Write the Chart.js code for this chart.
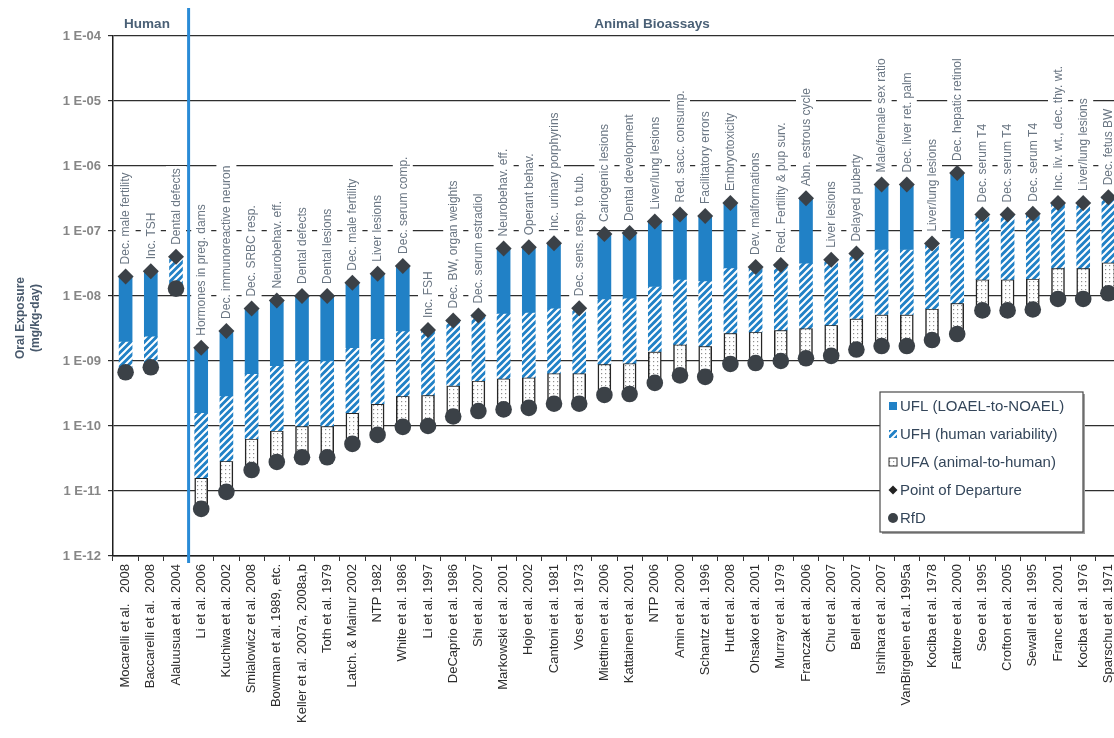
<!DOCTYPE html>
<html>
<head>
<meta charset="utf-8">
<script src="https://cdn.jsdelivr.net/npm/chart.js@4.4.0/dist/chart.umd.min.js"></script>
<style>
html,body{margin:0;padding:0;background:#fff;overflow:hidden;}
#wrap{width:1114px;height:738px;overflow:hidden;position:relative;}
canvas{display:block;}
</style>
</head>
<body>
<div id="wrap"><canvas id="tcdd" width="1130" height="738"></canvas></div>
<script>
// ---- data (mg/kg-day) ----
const studies = [
  'Mocarelli et al.   2008', 'Baccarelli et al.  2008', 'Alaluusua et al. 2004', 'Li et al. 2006',
  'Kuchiwa et al. 2002', 'Smialowicz et al. 2008', 'Bowman et al. 1989, etc.', 'Keller et al. 2007a, 2008a,b',
  'Toth et al. 1979', 'Latch. & Mainur 2002', 'NTP 1982', 'White et al. 1986', 'Li et al. 1997',
  'DeCaprio et al. 1986', 'Shi et al. 2007', 'Markowski et al. 2001', 'Hojo et al. 2002', 'Cantoni et al. 1981',
  'Vos et al. 1973', 'Miettinen et al. 2006', 'Kattainen et al. 2001', 'NTP 2006', 'Amin et al. 2000',
  'Schantz et al. 1996', 'Hutt et al. 2008', 'Ohsako et al. 2001', 'Murray et al. 1979', 'Franczak et al. 2006',
  'Chu et al. 2007', 'Bell et al. 2007', 'Ishihara et al. 2007', 'VanBirgelen et al. 1995a', 'Kociba et al. 1978',
  'Fattore et al. 2000', 'Seo et al. 1995', 'Crofton et al. 2005', 'Sewall et al. 1995', 'Franc et al. 2001',
  'Kociba et al. 1976', 'Sparschu et al. 1971'
];
const effects = [
  'Dec. male fertility', 'Inc. TSH', 'Dental defects', 'Hormones in preg. dams',
  'Dec. immunoreactive neuron', 'Dec. SRBC resp.', 'Neurobehav. eff.', 'Dental defects',
  'Dental lesions', 'Dec. male fertility', 'Liver lesions', 'Dec. serum comp.', 'Inc. FSH',
  'Dec. BW, organ weights', 'Dec. serum estradiol', 'Neurobehav. eff.', 'Operant behav.', 'Inc. urinary porphyrins',
  'Dec. sens. resp. to tub.', 'Cariogenic lesions', 'Dental development', 'Liver/lung lesions', 'Red. sacc. consump.',
  'Facilitatory errors', 'Embryotoxicity', 'Dev. malformations', 'Red. Fertility & pup surv.', 'Abn. estrous cycle',
  'Liver lesions', 'Delayed puberty', 'Male/female sex ratio', 'Dec. liver ret. palm', 'Liver/lung lesions',
  'Dec. hepatic retinol', 'Dec. serum T4', 'Dec. serum T4', 'Dec. serum T4', 'Inc. liv. wt., dec. thy. wt.',
  'Liver/lung lesions', 'Dec. fetus BW'
];
// point of departure (top of each bar)
const pod = [
  2.0e-8, 2.4e-8, 4.0e-8, 1.6e-9, 2.9e-9, 6.4e-9, 8.5e-9, 1.0e-8, 1.0e-8, 1.6e-8,
  2.2e-8, 2.9e-8, 3.0e-9, 4.2e-9, 5.0e-9, 5.4e-8, 5.6e-8, 6.5e-8, 6.5e-9, 9.0e-8,
  9.3e-8, 1.4e-7, 1.8e-7, 1.7e-7, 2.7e-7, 2.8e-8, 3.0e-8, 3.2e-7, 3.6e-8, 4.5e-8,
  5.2e-7, 5.2e-7, 6.4e-8, 7.8e-7, 1.8e-7, 1.8e-7, 1.85e-7, 2.7e-7, 2.7e-7, 3.3e-7
];
// lower end of the UFL segment (null = no LOAEL-to-NOAEL factor)
const uflLow = [
  2.0e-9, 2.4e-9, null, 1.6e-10, 2.9e-10, 6.4e-10, 8.5e-10, 1.0e-9, 1.0e-9, 1.6e-9,
  2.2e-9, 2.9e-9, null, null, null, 5.4e-9, 5.6e-9, 6.5e-9, null, 9.0e-9,
  9.3e-9, 1.4e-8, 1.8e-8, 1.7e-8, 2.7e-8, null, null, 3.2e-8, null, null,
  5.2e-8, 5.2e-8, null, 7.8e-8, null, null, null, null, null, null
];
// lower end of the UFH segment
const ufhLow = [
  6.7e-10, 8.0e-10, 1.3e-8, 1.6e-11, 2.9e-11, 6.4e-11, 8.5e-11, 1.0e-10, 1.0e-10, 1.6e-10,
  2.2e-10, 2.9e-10, 3.0e-10, 4.2e-10, 5.0e-10, 5.4e-10, 5.6e-10, 6.5e-10, 6.5e-10, 9.0e-10,
  9.3e-10, 1.4e-9, 1.8e-9, 1.7e-9, 2.7e-9, 2.8e-9, 3.0e-9, 3.2e-9, 3.6e-9, 4.5e-9,
  5.2e-9, 5.2e-9, 6.4e-9, 7.8e-9, 1.8e-8, 1.8e-8, 1.85e-8, 2.7e-8, 2.7e-8, 3.3e-8
];
// reference dose (bottom of each bar)
const rfd = [
  6.7e-10, 8.0e-10, 1.3e-8, 5.3e-12, 9.7e-12, 2.1e-11, 2.8e-11, 3.3e-11, 3.3e-11, 5.3e-11,
  7.3e-11, 9.7e-11, 1.0e-10, 1.4e-10, 1.7e-10, 1.8e-10, 1.9e-10, 2.2e-10, 2.2e-10, 3.0e-10,
  3.1e-10, 4.6e-10, 6.0e-10, 5.7e-10, 9.0e-10, 9.3e-10, 1.0e-9, 1.1e-9, 1.2e-9, 1.5e-9,
  1.7e-9, 1.7e-9, 2.1e-9, 2.6e-9, 6.0e-9, 6.0e-9, 6.2e-9, 9.0e-9, 9.0e-9, 1.1e-8
];
const yTicks = [1e-4, 1e-5, 1e-6, 1e-7, 1e-8, 1e-9, 1e-10, 1e-11, 1e-12];
const humanCount = 3;

// ---- styles ----
const BLUE = '#2181c6';
const MARK = '#3b4147';
const FONT = '"Liberation Sans", Arial, sans-serif';
Chart.defaults.font.family = FONT;

function makeHatch(){
  const s = 7, c = document.createElement('canvas');
  c.width = s; c.height = s;
  const g = c.getContext('2d');
  g.fillStyle = BLUE; g.fillRect(0, 0, s, s);
  g.strokeStyle = '#fff'; g.lineWidth = 2;
  g.beginPath();
  g.moveTo(-1, s + 1); g.lineTo(s + 1, -1);
  g.moveTo(-1, 1); g.lineTo(1, -1);
  g.moveTo(s - 1, s + 1); g.lineTo(s + 1, s - 1);
  g.stroke();
  return g.createPattern(c, 'repeat');
}
function makeDots(){
  const c = document.createElement('canvas');
  c.width = 4; c.height = 4;
  const g = c.getContext('2d');
  g.fillStyle = '#fff'; g.fillRect(0, 0, 4, 4);
  g.fillStyle = '#8e8e8e'; g.fillRect(1, 1, 1.2, 1.2);
  return g.createPattern(c, 'repeat');
}
const hatch = makeHatch();
const dots = makeDots();

// floating segments, top to bottom
const segL = pod.map((p, i) => uflLow[i] == null ? null : [uflLow[i], p]);
const segH = pod.map((p, i) => [ufhLow[i], uflLow[i] == null ? p : uflLow[i]]);
const segA = rfd.map((r, i) => ufhLow[i] > r ? [r, ufhLow[i]] : null);

function fmtExp(v){
  const e = Math.round(Math.log10(v));
  return '1 E-' + String(Math.abs(e)).padStart(2, '0');
}

const legendItems = [
  { text: 'UFL (LOAEL-to-NOAEL)', kind: 'solid' },
  { text: 'UFH (human variability)', kind: 'hatch' },
  { text: 'UFA (animal-to-human)', kind: 'dots' },
  { text: 'Point of Departure', kind: 'diamond' },
  { text: 'RfD', kind: 'circle' }
];

const decor = {
  id: 'decor',
  // endpoint labels with white boxes that break the gridlines
  beforeDatasetsDraw(chart){
    const { ctx, scales: { x, y } } = chart;
    ctx.save();
    ctx.font = '12px ' + FONT;
    ctx.textBaseline = 'middle';
    effects.forEach((t, i) => {
      const px = x.getPixelForValue(i);
      const py = y.getPixelForValue(pod[i]) - 12;
      const w = ctx.measureText(t).width;
      ctx.save();
      ctx.translate(px, py);
      ctx.rotate(-Math.PI / 2);
      ctx.fillStyle = '#fff';
      ctx.fillRect(-2, -10, w + 4, 20);
      ctx.fillStyle = '#6a7683';
      ctx.fillText(t, 0, 0.5);
      ctx.restore();
    });
    ctx.restore();
  },
  afterDraw(chart){
    const { ctx, chartArea: a, scales: { x } } = chart;
    ctx.save();
    // human / animal divider
    const sep = (x.getPixelForValue(humanCount - 1) + x.getPixelForValue(humanCount)) / 2;
    ctx.strokeStyle = '#2a8bd6';
    ctx.lineWidth = 3;
    ctx.beginPath();
    ctx.moveTo(sep, 8); ctx.lineTo(sep, a.bottom + 7);
    ctx.stroke();

    // group headers
    ctx.fillStyle = '#4a6076';
    ctx.font = 'bold 13.5px ' + FONT;
    ctx.textAlign = 'center';
    ctx.textBaseline = 'middle';
    ctx.fillText('Human', 147, 24);
    ctx.fillText('Animal Bioassays', 652, 24);

    // y title
    ctx.save();
    ctx.translate(21, 318);
    ctx.rotate(-Math.PI / 2);
    ctx.font = 'bold 12px ' + FONT;
    ctx.fillStyle = '#48596c';
    ctx.fillText('Oral Exposure', 0, 0);
    ctx.fillText('(mg/kg-day)', 0, 15);
    ctx.restore();

    // legend
    const lx = 880, ly = 392, lw = 203, lh = 140;
    ctx.fillStyle = '#a0a0a0';
    ctx.fillRect(lx + 2, ly + 2, lw, lh);
    ctx.fillStyle = '#fff';
    ctx.fillRect(lx, ly, lw, lh);
    ctx.strokeStyle = '#4a4a4a';
    ctx.lineWidth = 1.2;
    ctx.strokeRect(lx, ly, lw, lh);
    ctx.textAlign = 'left';
    ctx.font = '15px ' + FONT;
    legendItems.forEach((it, k) => {
      const ry = ly + 14 + k * 28;
      const mx = 893;
      if (it.kind === 'solid') { ctx.fillStyle = BLUE; ctx.fillRect(mx - 4, ry - 4, 8, 8); }
      if (it.kind === 'hatch') { ctx.fillStyle = hatch; ctx.fillRect(mx - 4, ry - 4, 8, 8); }
      if (it.kind === 'dots') {
        ctx.fillStyle = dots; ctx.fillRect(mx - 4, ry - 4, 8, 8);
        ctx.strokeStyle = '#333'; ctx.lineWidth = 1; ctx.strokeRect(mx - 4, ry - 4, 8, 8);
      }
      if (it.kind === 'diamond') {
        ctx.fillStyle = '#222';
        ctx.beginPath();
        ctx.moveTo(mx, ry - 4.5); ctx.lineTo(mx + 4.5, ry); ctx.lineTo(mx, ry + 4.5); ctx.lineTo(mx - 4.5, ry);
        ctx.closePath(); ctx.fill();
      }
      if (it.kind === 'circle') {
        ctx.fillStyle = MARK;
        ctx.beginPath(); ctx.arc(mx, ry, 5, 0, Math.PI * 2); ctx.fill();
      }
      ctx.fillStyle = '#34465a';
      ctx.fillText(it.text, 900, ry + 1);
    });
    ctx.restore();
  }
};

new Chart(document.getElementById('tcdd'), {
  type: 'bar',
  data: {
    labels: studies,
    datasets: [
      { type: 'line', label: 'Point of Departure', data: pod, showLine: false, order: 0,
        pointStyle: 'rectRot', pointRadius: 8, pointBackgroundColor: MARK, pointBorderColor: MARK, pointBorderWidth: 0 },
      { type: 'line', label: 'RfD', data: rfd, showLine: false, order: 0,
        pointStyle: 'circle', pointRadius: 8.3, pointBackgroundColor: MARK, pointBorderColor: MARK, pointBorderWidth: 0 },
      { label: 'UFL (LOAEL-to-NOAEL)', data: segL, backgroundColor: BLUE, grouped: false, order: 1,
        barThickness: 13, borderWidth: 0 },
      { label: 'UFH (human variability)', data: segH, backgroundColor: hatch, grouped: false, order: 1,
        barThickness: 13, borderWidth: 0 },
      { label: 'UFA (animal-to-human)', data: segA, backgroundColor: dots, grouped: false, order: 1,
        barThickness: 13, borderWidth: 1.5, borderColor: '#262626', borderSkipped: false }
    ]
  },
  options: {
    responsive: false,
    animation: false,
    layout: { padding: { top: 36, right: 9, left: 0, bottom: 0 } },
    plugins: { legend: { display: false }, tooltip: { enabled: false } },
    scales: {
      x: {
        type: 'category',
        offset: true,
        afterFit: s => { s.height = 182; },
        grid: { display: true, drawOnChartArea: false, drawTicks: true, tickLength: 5, color: '#333', offset: true },
        border: { color: '#1e1e1e', width: 1.5 },
        ticks: { autoSkip: false, minRotation: 90, maxRotation: 90, color: '#2d2d2d', font: { size: 13 }, padding: 3 }
      },
      y: {
        type: 'logarithmic',
        min: 1e-12,
        max: 1e-4,
        afterBuildTicks: s => { s.ticks = yTicks.map(v => ({ value: v })); },
        afterFit: s => { s.width = 113; },
        grid: { color: '#2e2e2e', lineWidth: 1.2, tickLength: 5, drawTicks: true },
        border: { color: '#1e1e1e', width: 1.5 },
        ticks: { callback: v => fmtExp(v), color: '#868686', font: { size: 13, weight: 'bold' }, padding: 7 }
      }
    }
  },
  plugins: [decor]
});
</script>
</body>
</html>
